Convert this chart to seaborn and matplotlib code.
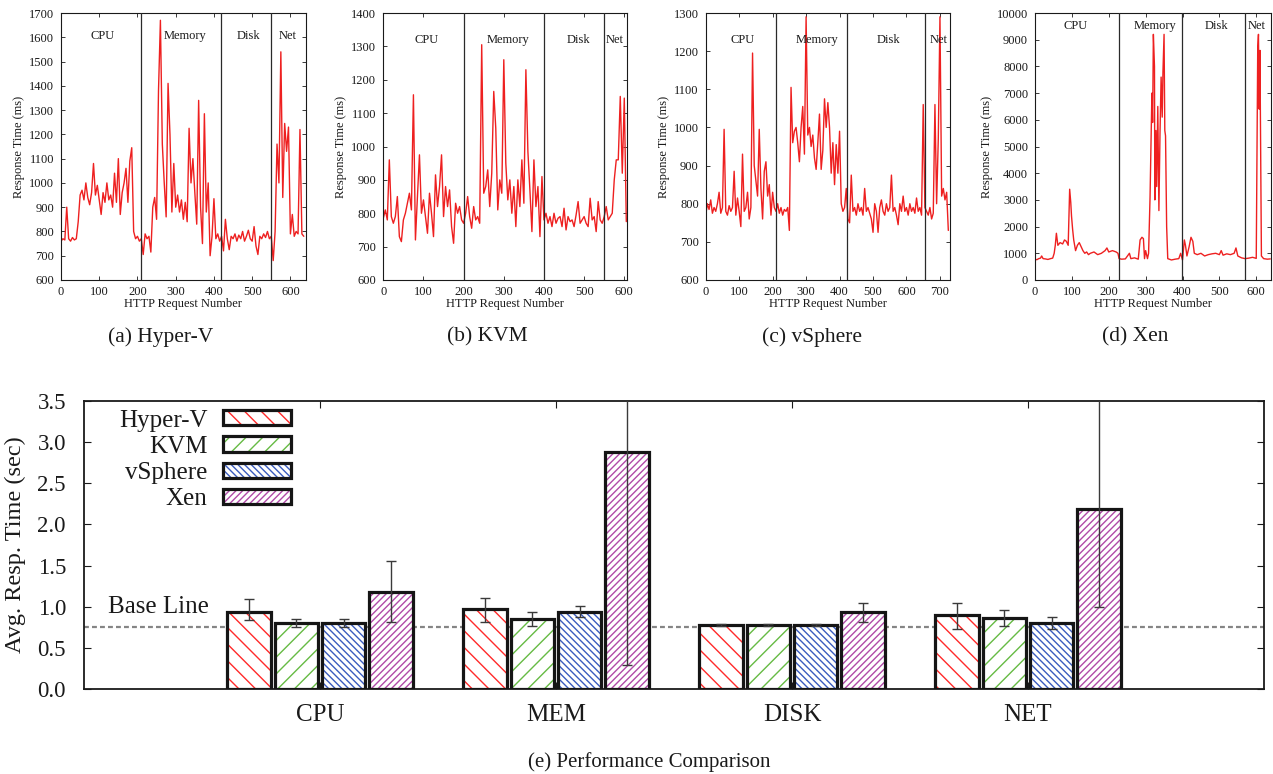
import numpy as np
import pandas as pd
import matplotlib
matplotlib.use("Agg")
import matplotlib.pyplot as plt
import matplotlib.patches as mpatches
from matplotlib.container import BarContainer
from matplotlib.ticker import MultipleLocator, FormatStrFormatter
from matplotlib.legend_handler import HandlerTuple
from matplotlib.transforms import blended_transform_factory
import seaborn as sns

# ---------------- data: per-request response times (ms) ----------------
hyperv_x = np.arange(0, 640, 5)
hyperv_y = [760, 770, 765, 900, 770, 760, 775, 765, 770, 840,
            950, 970, 930, 1000, 940, 910, 960, 1080, 950, 990,
            930, 870, 960, 920, 1000, 930, 950, 900, 1040, 920,
            1100, 870, 960, 1000, 1060, 920, 1090, 1145, 800, 770,
            780, 760, 770, 705, 790, 770, 780, 715, 900, 940,
            850, 1380, 1670, 1160, 1000, 860, 1410, 1200, 880, 1080,
            900, 950, 880, 930, 850, 920, 840, 1225, 1000, 1100,
            960, 830, 1340, 900, 750, 1285, 880, 1000, 700, 780,
            935, 770, 790, 760, 780, 720, 850, 770, 725, 780,
            770, 790, 760, 785, 770, 800, 760, 780, 805, 770,
            760, 820, 740, 705, 780, 770, 790, 775, 800, 770,
            780, 680, 800, 1160, 1000, 1540, 940, 1245, 1130, 1230,
            790, 870, 780, 800, 790, 1220, 790, 780]

kvm_x = np.arange(0, 610, 5)
kvm_y = [785, 810, 780, 960, 790, 770, 790, 850, 730, 715,
         780, 800, 830, 860, 810, 1155, 720, 850, 975, 800,
         840, 790, 740, 860, 800, 730, 915, 820, 880, 975,
         790, 880, 820, 870, 760, 710, 830, 800, 820, 780,
         770, 800, 850, 790, 755, 820, 780, 790, 770, 1305,
         860, 880, 930, 820, 920, 1165, 1055, 810, 900, 860,
         1260, 950, 840, 900, 800, 880, 760, 900, 820, 960,
         830, 1230, 985, 870, 745, 960, 820, 880, 730, 910,
         780, 800, 770, 790, 760, 800, 770, 785, 790, 760,
         815, 750, 790, 775, 780, 760, 795, 835, 770, 780,
         790, 770, 760, 845, 780, 790, 745, 835, 780, 770,
         790, 820, 780, 790, 800, 900, 960, 960, 1150, 920,
         1145, 775]

vsphere_x = np.arange(0, 730, 5)
vsphere_y = [770, 800, 785, 810, 775, 790, 780, 800, 830, 775,
             790, 995, 780, 770, 795, 780, 790, 885, 770, 815,
             780, 740, 930, 780, 790, 830, 760, 790, 1195, 900,
             860, 820, 995, 840, 760, 885, 910, 820, 850, 770,
             830, 790, 780, 800, 775, 790, 770, 785, 780, 790,
             730, 1105, 960, 990, 1000, 960, 910, 1000, 1055, 930,
             1290, 980, 1000, 950, 980, 920, 890, 960, 1035, 890,
             940, 1075, 1000, 1065, 1000, 880, 960, 850, 955, 880,
             990, 800, 780, 790, 840, 760, 750, 875, 780, 790,
             770, 800, 780, 790, 770, 840, 780, 790, 775, 760,
             725, 800, 780, 725, 790, 810, 780, 770, 800, 780,
             790, 875, 780, 790, 770, 745, 800, 780, 820, 780,
             790, 770, 800, 780, 790, 775, 815, 780, 790, 770,
             1060, 790, 780, 770, 790, 760, 775, 1060, 800, 970,
             1290, 820, 840, 810, 830, 730]

xen_x = [0, 5, 10, 15, 18, 22, 28, 35, 42, 48,
         52, 55, 58, 62, 68, 75, 80, 85, 90, 94,
         97, 99, 102, 105, 110, 115, 120, 125, 130, 135,
         140, 145, 150, 160, 170, 180, 190, 195, 200, 210,
         220, 225, 228, 235, 245, 256, 260, 270, 280, 285,
         290, 294, 297, 300, 305, 308, 312, 317, 319, 321,
         324, 325, 328, 330, 333, 336, 339, 342, 345, 347,
         350, 352, 354, 357, 360, 370, 380, 390, 395, 400,
         405, 408, 412, 418, 423, 428, 432, 440, 450, 460,
         470, 480, 490, 500, 505, 510, 520, 530, 540, 545,
         550, 560, 570, 580, 590, 600, 604, 606, 608, 610,
         614, 620, 630, 638]
xen_y = [780, 760, 800, 820, 900, 800, 790, 770, 800, 820,
         1000, 1300, 1750, 1300, 1400, 1350, 1500, 1450, 1300, 3400,
         2900, 2400, 1900, 1500, 1100, 1300, 1400, 1250, 1100, 1000,
         1050, 950, 1000, 1050, 950, 1000, 1100, 1200, 1050, 1100,
         1050, 1000, 800, 780, 790, 1000, 800, 830, 780, 1500,
         1600, 1550, 800, 1100, 800, 1000, 3100, 7000, 5900, 9200,
         8000, 3000, 5600, 3500, 6500, 2600, 5500, 7600, 6100, 7800,
         9200, 5600, 5400, 2000, 800, 750, 780, 800, 1000, 750,
         1500, 1300, 900, 1250, 1600, 1450, 1000, 950, 1000, 900,
         950, 980, 1000, 950, 1100, 930, 980, 950, 1000, 1200,
         900, 830, 800, 820, 850, 810, 8700, 9200, 6400, 8600,
         900, 800, 780, 790]

section_names = ["CPU", "Memory", "Disk", "Net"]
hyperv_dividers = [209, 418, 548]
kvm_dividers = [200, 400, 550]
vsphere_dividers = [209, 423, 655]
xen_dividers = [228, 399, 570]
hyperv_label_x = [109, 324, 490, 593]
kvm_label_x = [107, 310, 486, 576]
vsphere_label_x = [110, 332, 545, 697]
xen_label_x = [109, 325, 491, 600]

# ---------------- data: average response time (sec) ----------------
categories = ["CPU", "MEM", "DISK", "NET"]
hypervisors = ["Hyper-V", "KVM", "vSphere", "Xen"]
hyperv_mean = [0.935, 0.97, 0.775, 0.90]
kvm_mean = [0.80, 0.85, 0.78, 0.865]
vsphere_mean = [0.80, 0.94, 0.78, 0.80]
xen_mean = [1.18, 2.88, 0.935, 2.19]
hyperv_low = [0.84, 0.81, 0.765, 0.73]
hyperv_high = [1.09, 1.11, 0.785, 1.05]
kvm_low = [0.75, 0.77, 0.77, 0.77]
kvm_high = [0.85, 0.93, 0.79, 0.96]
vsphere_low = [0.75, 0.88, 0.77, 0.73]
vsphere_high = [0.85, 1.01, 0.79, 0.88]
xen_low = [0.82, 0.29, 0.81, 1.00]
xen_high = [1.55, 5.47, 1.04, 3.90]
baseline = 0.75

# ---------------- style ----------------
sns.set_theme(style="ticks")
plt.rcParams["font.family"] = ["Liberation Serif", "DejaVu Serif"]
plt.rcParams["hatch.linewidth"] = 1.0
plt.rcParams["text.color"] = "#1a1a1a"
plt.rcParams["axes.labelcolor"] = "#1a1a1a"
plt.rcParams["xtick.color"] = "#1a1a1a"
plt.rcParams["ytick.color"] = "#1a1a1a"

W, H = 1273, 774
fig = plt.figure(figsize=(W / 100, H / 100), dpi=100)


def px_rect(left, top, right, bottom):
    return [left / W, 1 - bottom / H, (right - left) / W, (bottom - top) / H]


line_color = "#ee2020"


def series_panel(rect, x, y, xlim, ylim, ystep, dividers, label_x, label_y, caption, cap_x):
    ax = fig.add_axes(rect)
    sns.lineplot(x=x, y=y, ax=ax, color=line_color, linewidth=1.0, estimator=None)
    ax.set_xlim(*xlim)
    ax.set_ylim(*ylim)
    ax.xaxis.set_major_locator(MultipleLocator(100))
    ax.yaxis.set_major_locator(MultipleLocator(ystep))
    for d in dividers:
        ax.axvline(d, color="#2a2a2a", lw=0.9, zorder=3)
    for name, lx in zip(section_names, label_x):
        ax.text(lx, label_y, name, transform=ax.get_xaxis_transform(),
                ha="center", va="center", fontsize=9)
    ax.set_xlabel("HTTP Request Number", fontsize=9, labelpad=0.5)
    ax.set_ylabel("Response Time (ms)", fontsize=9, labelpad=3)
    ax.tick_params(direction="in", top=True, right=True, length=3, width=0.6,
                   labelsize=9)
    ax.tick_params(axis="x", pad=4)
    ax.tick_params(axis="y", pad=5)
    for sp in ax.spines.values():
        sp.set_linewidth(0.8)
        sp.set_color("#1a1a1a")
    fig.text(cap_x / W, 1 - 337 / H, caption, ha="center", va="center", fontsize=15.5)
    return ax


series_panel(px_rect(61, 13, 305.7, 280), hyperv_x, hyperv_y, (0, 640), (600, 1700), 100,
             hyperv_dividers, hyperv_label_x, 0.913, "(a) Hyper-V", 161)
series_panel(px_rect(383.3, 13, 626.7, 280), kvm_x, kvm_y, (0, 606), (600, 1400), 100,
             kvm_dividers, kvm_label_x, 0.90, "(b) KVM", 487)
series_panel(px_rect(705.7, 13, 950, 280), vsphere_x, vsphere_y, (0, 730), (600, 1300), 100,
             vsphere_dividers, vsphere_label_x, 0.90, "(c) vSphere", 812)
series_panel(px_rect(1035, 13, 1271, 280), xen_x, xen_y, (0, 640), (0, 10000), 1000,
             xen_dividers, xen_label_x, 0.95, "(d) Xen", 1135)

# ---------------- bottom bar chart ----------------
means = [hyperv_mean, kvm_mean, vsphere_mean, xen_mean]
lows = [hyperv_low, kvm_low, vsphere_low, xen_low]
highs = [hyperv_high, kvm_high, vsphere_high, xen_high]
df = pd.DataFrame({
    "category": [c for _ in hypervisors for c in categories],
    "vm": [v for v in hypervisors for _ in categories],
    "value": [val for m in means for val in m],
})

hatch_colors = ["#ff2a2a", "#66bb44", "#3a5cbf", "#b04aa8"]
hatches = ["\\\\", "//", "\\\\\\\\\\", "/////"]

ax = fig.add_axes(px_rect(84, 401, 1264, 689))
ax.axhline(baseline, color="#858585", lw=1.6, ls=(0, (2.2, 1.4)), zorder=1)
sns.barplot(data=df, x="category", y="value", hue="vm", order=categories,
            hue_order=hypervisors, palette={v: "white" for v in hypervisors},
            errorbar=None, width=0.8, gap=0.08, legend=False, ax=ax, zorder=2)

bar_containers = [c for c in ax.containers if isinstance(c, BarContainer)]
for i, cont in enumerate(bar_containers):
    xs = []
    for bar in list(cont.patches):
        bar.set_facecolor("white")
        bar.set_edgecolor(hatch_colors[i])
        bar.set_hatch(hatches[i])
        bar.set_linewidth(0)
        bar.set_zorder(2)
        ax.add_patch(mpatches.Rectangle(bar.get_xy(), bar.get_width(), bar.get_height(),
                                        fill=False, edgecolor="#151515", lw=2.3, zorder=3))
        xs.append(bar.get_x() + bar.get_width() / 2)
    m = np.array(means[i])
    err = [m - np.array(lows[i]), np.array(highs[i]) - m]
    ax.errorbar(xs, m, yerr=err, fmt="none", ecolor="#3a3a3a", elinewidth=1.0,
                capsize=3.5, capthick=1.0, zorder=4)

ax.set_xlim(-1, 4)
ax.set_ylim(0, 3.5)
ax.yaxis.set_major_locator(MultipleLocator(0.5))
ax.yaxis.set_major_formatter(FormatStrFormatter("%.1f"))
ax.set_xlabel("")
ax.set_ylabel("Avg. Resp. Time (sec)", fontsize=17.5, labelpad=8)
ax.tick_params(direction="in", top=True, right=True, length=5, width=0.8)
ax.tick_params(axis="y", labelsize=16.5, pad=13)
ax.tick_params(axis="x", labelsize=18, pad=11)
for sp in ax.spines.values():
    sp.set_linewidth(1.3)
    sp.set_color("#1a1a1a")

ax.text(0.02, 1.0, "Base Line", transform=blended_transform_factory(ax.transAxes, ax.transData),
        ha="left", va="center", fontsize=18)

handles = [(mpatches.Patch(facecolor="white", edgecolor=hc, hatch=h, lw=0),
            mpatches.Patch(fill=False, edgecolor="#151515", lw=2.3))
           for hc, h in zip(hatch_colors, hatches)]
ax.legend(handles, hypervisors, handler_map={tuple: HandlerTuple(ndivide=1, pad=0)},
          markerfirst=False, loc="upper right", bbox_to_anchor=(0.1754, 0.97),
          frameon=False, fontsize=18, handlelength=2.7, handleheight=0.56,
          handletextpad=0.64, labelspacing=0.17, borderpad=0, borderaxespad=0)

fig.text(649 / W, 1 - 762 / H, "(e) Performance Comparison", ha="center", va="center",
         fontsize=15)

fig.savefig("out.png", dpi=100)
